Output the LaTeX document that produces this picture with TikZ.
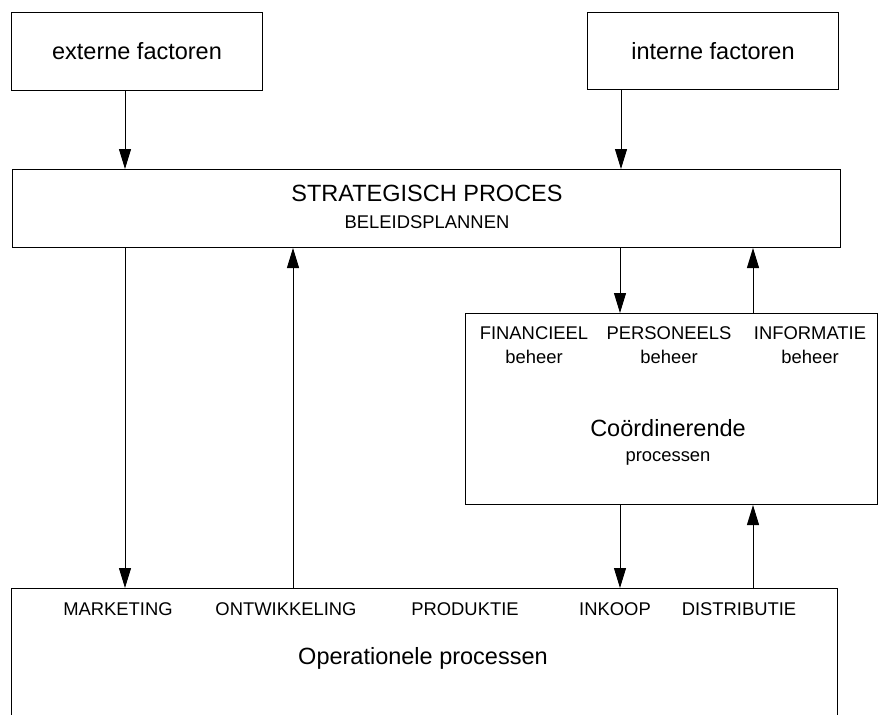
\documentclass[tikz,border=0pt]{standalone}
\usepackage{fontspec}
\setmainfont{Liberation Sans}
\usetikzlibrary{arrows.meta}
\begin{document}
\begin{tikzpicture}[x=1pt,y=-1pt,
  box/.style={draw,line width=1pt,inner sep=0pt,anchor=north west},
  big/.style={font=\fontsize{23.5}{28}\selectfont,inner sep=0pt},
  small/.style={font=\fontsize{18.4}{22}\selectfont,inner sep=0pt},
  arr/.style={line width=1pt,-{Triangle[length=20pt,width=12pt]}}]
\useasboundingbox (0,0) rectangle (879,715);
\clip (0,0) rectangle (879,715);
% boxes
\node[box,big,minimum width=251pt,minimum height=78pt] (ext) at (11,12) {externe factoren};
\node[box,big,minimum width=251pt,minimum height=77pt] (int) at (587,12) {interne factoren};
\node[box,minimum width=828pt,minimum height=78pt] (strat) at (12,169) {};
\node[box,minimum width=412pt,minimum height=191pt] (coord) at (465,313) {};
\node[box,minimum width=826pt,minimum height=200pt] (op) at (11,588) {};
% strategic texts
\node[big] (sp) at (427,193) {STRATEGISCH PROCES};
\node[small] (bp) at (427,222) {BELEIDSPLANNEN};
% coordinating texts
\node[small] (fin) at (534,333) {FINANCIEEL};
\node[small] (per) at (669,333) {PERSONEELS};
\node[small] (inf) at (810,333) {INFORMATIE};
\node[small] (b1) at (534,357) {beheer};
\node[small] (b2) at (669,357) {beheer};
\node[small] (b3) at (810,357) {beheer};
\node[big] (co) at (668,428) {Coördinerende};
\node[small] (cp) at (668,458) {processen};
% operational texts
\node[small] (mk) at (118,609) {MARKETING};
\node[small] (ow) at (286,609) {ONTWIKKELING};
\node[small] (pr) at (465,609) {PRODUKTIE};
\node[small] (ik) at (615,609) {INKOOP};
\node[small] (di) at (739,609) {DISTRIBUTIE};
\node[big] (opt) at (423,658) {Operationele processen};
% arrow columns
\coordinate (xa) at (125,0);
\coordinate (xb) at (621,0);
\coordinate (xc) at (293,0);
\coordinate (xd) at (620,0);
\coordinate (xe) at (753,0);
% connectors
\draw[arr] (ext.south -| xa) -- (strat.north -| xa);
\draw[arr] (int.south -| xb) -- (strat.north -| xb);
\draw[arr] (strat.south -| xa) -- (op.north -| xa);
\draw[arr] (op.north -| xc) -- (strat.south -| xc);
\draw[arr] (strat.south -| xd) -- (coord.north -| xd);
\draw[arr] (coord.north -| xe) -- (strat.south -| xe);
\draw[arr] (coord.south -| xd) -- (op.north -| xd);
\draw[arr] (op.north -| xe) -- (coord.south -| xe);
\end{tikzpicture}
\end{document}
